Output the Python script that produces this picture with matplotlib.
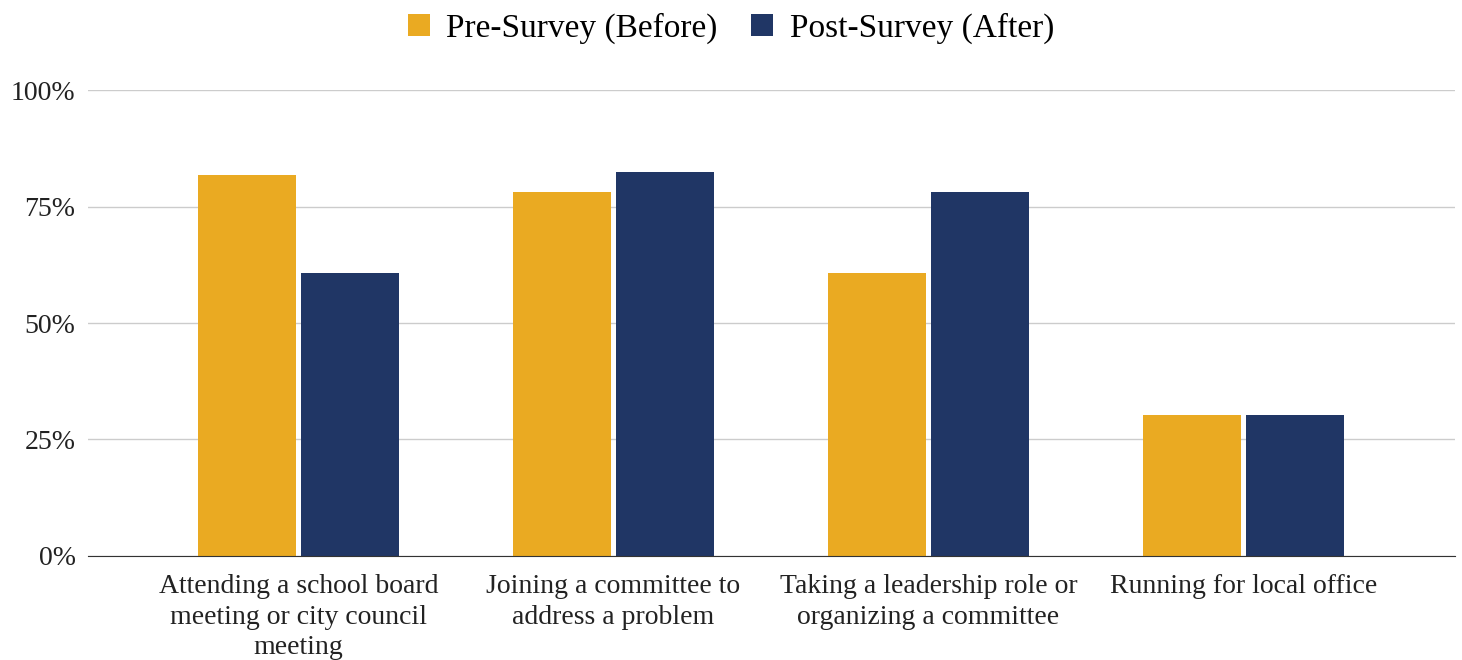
import matplotlib.pyplot as plt
import numpy as np
from matplotlib.ticker import FuncFormatter

categories = [
    "Attending a school board\nmeeting or city council\nmeeting",
    "Joining a committee to\naddress a problem",
    "Taking a leadership role or\norganizing a committee",
    "Running for local office",
]
pre_survey = [81.8, 78.2, 60.7, 30.2]
post_survey = [60.7, 82.3, 78.2, 30.2]

plt.rcParams["font.family"] = ["Liberation Serif", "DejaVu Serif"]

fig = plt.figure(figsize=(14.62, 6.6), dpi=100)
ax = fig.add_axes([0.0602, 0.1576, 0.9348, 0.706])

x = np.arange(len(categories))
w = 0.311
ax.bar(x - 0.164, pre_survey, width=w, color="#EAAA22", label="Pre-Survey (Before)", zorder=3)
ax.bar(x + 0.164, post_survey, width=w, color="#203665", label="Post-Survey (After)", zorder=3)

ax.set_xlim(-0.668, 3.671)
ax.set_ylim(0, 100)
ax.set_yticks([0, 25, 50, 75, 100])
ax.yaxis.set_major_formatter(FuncFormatter(lambda v, p: f"{int(v)}%"))
ax.grid(axis="y", color="#cccccc", linewidth=1, zorder=0)
ax.set_xticks(x)
ax.set_xticklabels(categories, fontsize=20, linespacing=1.3)
ax.tick_params(axis="y", length=0, pad=9, labelsize=20, colors="#222222")
ax.tick_params(axis="x", length=0, labelsize=20, pad=13, colors="#222222")
for s in ["top", "right", "left"]:
    ax.spines[s].set_visible(False)
ax.spines["bottom"].set_color("#333333")
ax.spines["bottom"].set_zorder(4)

fig.legend(loc="center", bbox_to_anchor=(0.5, 0.957), ncol=2, frameon=False,
           fontsize=24, handlelength=0.65, handleheight=0.65, columnspacing=1.0, handletextpad=0.5)

fig.savefig("out.png", dpi=100)
